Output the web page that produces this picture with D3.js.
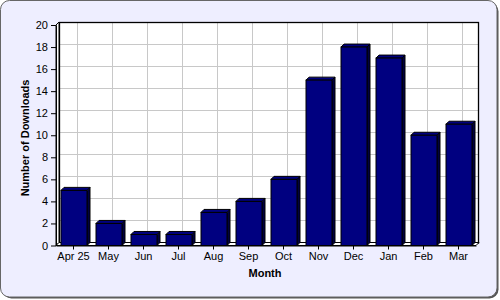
<!DOCTYPE html>
<html><head><meta charset="utf-8">
<script src="https://cdn.jsdelivr.net/npm/d3@7"></script>
<style>body{margin:0;background:#fff}svg{display:block}text{font-family:"Liberation Sans",Arial,sans-serif}</style>
</head><body><svg id="c" width="500" height="300"></svg>
<script>
const months = ["Apr 25","May","Jun","Jul","Aug","Sep","Oct","Nov","Dec","Jan","Feb","Mar"];
const downloads = [5,2,1,1,3,4,6,15,18,17,10,11];
const yTicks = [0,2,4,6,8,10,12,14,16,18,20];
const xTitle = "Month";
const yTitle = "Number of Downloads";

const svg = d3.select("#c");
const D = 3; // 3D depth
const L = 56, R = 476, T = 25, B = 245.5;

// frame with shadow
svg.append("rect").attr("x",2.5).attr("y",2.5).attr("width",496).attr("height",296).attr("rx",9)
  .attr("fill","#555");
svg.append("rect").attr("x",0.5).attr("y",0.5).attr("width",496.5).attr("height",296.5).attr("rx",9)
  .attr("fill","#EEEEFF").attr("stroke","#666").attr("stroke-width",1);

const x = d3.scaleBand().domain(months).range([L,R]).paddingInner(0).paddingOuter(0);
const y = d3.scaleLinear().domain([0,20]).range([B,T]);
const bw = 26;

// back wall
svg.append("rect").attr("x",L+D).attr("y",T-D).attr("width",R-L).attr("height",B-T)
  .attr("fill","#fff");
const g = svg.append("g").attr("stroke","#c8c8c8").attr("stroke-width",1);
yTicks.forEach(v=>{
  g.append("line").attr("x1",L+D).attr("x2",R+D).attr("y1",Math.round(y(v)-D)+0.5).attr("y2",Math.round(y(v)-D)+0.5);
});
months.forEach(m=>{
  const cx = Math.round(x(m)+x.bandwidth()/2+D)+0.5;
  g.append("line").attr("x1",cx).attr("x2",cx).attr("y1",T-D).attr("y2",B-D);
});
svg.append("rect").attr("x",L+D+0.5).attr("y",T-D+0.5).attr("width",R-L-1).attr("height",B-T)
  .attr("fill","none").attr("stroke","#000").attr("stroke-width",1.3);

// left wall & floor
svg.append("polygon").attr("points",[[L,T],[L+D,T-D],[L+D,B-D],[L,B]].join(" "))
  .attr("fill","#fff").attr("stroke","#000").attr("stroke-width",1);
svg.append("polygon").attr("points",[[L,B],[L+D,B-D],[R+D,B-D],[R,B]].join(" "))
  .attr("fill","#fff").attr("stroke","#000").attr("stroke-width",1);

// bars
const bars = svg.append("g");
months.forEach((m,i)=>{
  const v = downloads[i];
  const x0 = x(m)+(x.bandwidth()-bw)/2+0.5, x1 = x0+bw;
  const yt = y(v), yb = B;
  bars.append("polygon").attr("points",[[x1,yt],[x1+D,yt-D],[x1+D,yb-D],[x1,yb]].join(" "))
    .attr("fill","#000040").attr("stroke","#000").attr("stroke-width",1);
  bars.append("polygon").attr("points",[[x0,yt],[x0+D,yt-D],[x1+D,yt-D],[x1,yt]].join(" "))
    .attr("fill","#000080").attr("stroke","#000").attr("stroke-width",1);
  bars.append("rect").attr("x",x0).attr("y",yt).attr("width",bw).attr("height",yb-yt)
    .attr("fill","#000080").attr("stroke","#000").attr("stroke-width",1);
});

// axes
const yAxis = d3.axisLeft(y).tickValues(yTicks).tickSize(5).tickPadding(3).tickSizeOuter(0);
const ya = svg.append("g").attr("transform",`translate(${L},0)`).call(yAxis);
const xAxis = d3.axisBottom(x).tickSize(4).tickPadding(3).tickSizeOuter(0);
const xa = svg.append("g").attr("transform",`translate(0,${B})`).call(xAxis);
[ya,xa].forEach(a=>{
  a.selectAll("text").attr("font-size",11).attr("fill","#000").attr("font-family","Liberation Sans, Arial, sans-serif");
  a.selectAll("line").attr("stroke","#000");
  a.select(".domain").attr("stroke","#000");
});

svg.append("text").attr("x",265).attr("y",277).attr("text-anchor","middle")
  .attr("font-size",11).attr("font-weight","bold").text(xTitle);
svg.append("text").attr("transform","translate(29,138) rotate(-90)").attr("text-anchor","middle")
  .attr("font-size",11).attr("font-weight","bold").text(yTitle);
</script></body></html>
